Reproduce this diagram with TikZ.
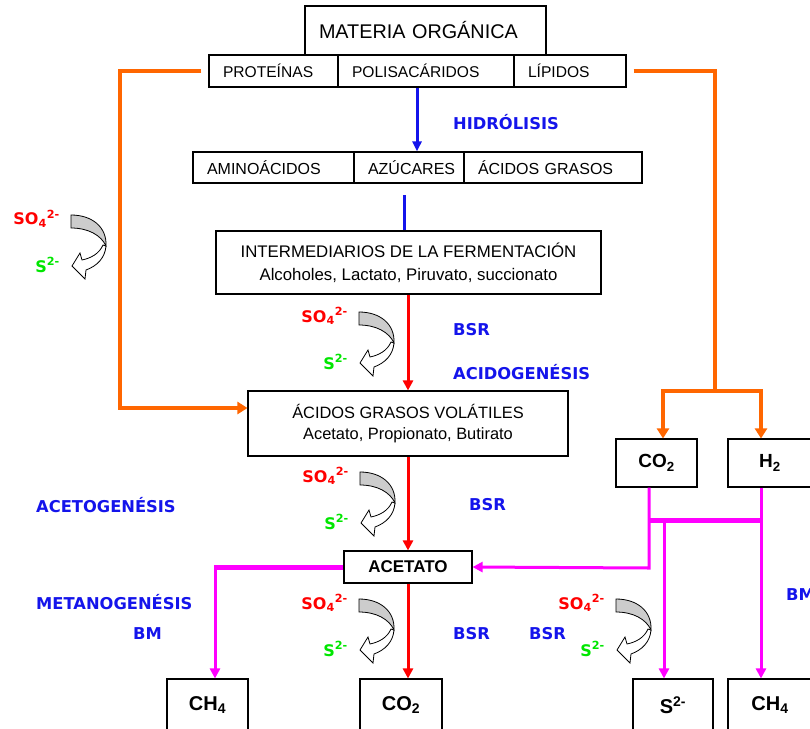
\documentclass[tikz,border=0pt]{standalone}
\usepackage{fontspec}
\setmainfont{Liberation Sans}
\newfontfamily\lblfont{DejaVu Sans}
\usepackage{xcolor}
\usetikzlibrary{arrows.meta}

\definecolor{naranja}{RGB}{255,102,0}
\definecolor{azul}{RGB}{20,20,235}
\definecolor{rojo}{RGB}{255,0,0}
\definecolor{verde}{RGB}{0,230,0}
\definecolor{magenta}{RGB}{255,0,255}

\tikzset{
    sulf/.pic={
        \filldraw[fill=gray!40, line width=0.8pt] (0,0) .. controls (21,0) and (36,12) .. (35,31)
            .. controls (30,20) and (17,13) .. (0,13) -- cycle;
        \filldraw[fill=white, line width=0.8pt] (35,31) .. controls (34,43) and (26,51) .. (15,55)
            -- (14,64) -- (1,51) -- (9,38) -- (11,45) .. controls (20,43) and (28,39) .. (32,30) -- cycle;
        \node[sulfo] (-so) at (-11,4) {SO\textsubscript{4}\textsuperscript{2-}};
        \node[sulfu] (-s) at (-11,50) {S\textsuperscript{2-}};
    }
}

\begin{document}
\begin{tikzpicture}[x=1pt, y=-1pt,
    caja/.style={draw, line width=1.1pt, inner sep=0pt, font=\fontsize{16}{18}\selectfont},
    celda/.style={caja, inner xsep=0pt, text width=#1, align=left, execute at begin node={\hspace*{14pt}}},
    quim/.style={caja, font=\fontsize{20}{22}\selectfont\bfseries},
    etiq/.style={anchor=west, text=azul, inner sep=0pt, font=\lblfont\bfseries\fontsize{16.3}{18}\selectfont},
    sulfo/.style={anchor=east, text=rojo, inner sep=0pt, font=\lblfont\bfseries\fontsize{16}{18}\selectfont},
    sulfu/.style={anchor=east, text=verde, inner sep=0pt, font=\lblfont\bfseries\fontsize{16}{18}\selectfont},
    flna/.style={naranja, line width=4.5pt},
    flaz/.style={azul, line width=3pt},
    flro/.style={rojo, line width=3pt},
    flma/.style={magenta, line width=3pt},
    punta/.style={-{Triangle[length=10pt, width=#1]}}
]
    \clip (0,0) rectangle (810,728);

    % cajas
    \node[celda=241, minimum height=49, font=\fontsize{19.8}{22}\selectfont] (mo) at (425.5,30.5) {MATERIA ORGÁNICA};
    \node[celda=129, minimum height=32, font=\fontsize{15.6}{18}\selectfont] (prot) at (273.5,71) {PROTEÍNAS};
    \node[celda=176, minimum height=32, font=\fontsize{15.6}{18}\selectfont] (polis) at (426,71) {POLISACÁRIDOS};
    \node[celda=112, minimum height=32, font=\fontsize{15.6}{18}\selectfont] (lip) at (570,71) {LÍPIDOS};
    \node[celda=161, minimum height=31] (amino) at (273.5,167.5) {AMINOÁCIDOS};
    \node[celda=110, minimum height=31] (azuc) at (409,167.5) {AZÚCARES};
    \node[celda=178, minimum height=31] (acgr) at (553,167.5) {ÁCIDOS GRASOS};
    \node[caja, minimum width=385, minimum height=63, align=center, font=\fontsize{16.8}{23}\selectfont] (inter) at (408.5,262.5)
        {INTERMEDIARIOS DE LA FERMENTACIÓN\\Alcoholes, Lactato, Piruvato, succionato};
    \node[caja, minimum width=320, minimum height=65, align=center, font=\fontsize{16.4}{21}\selectfont] (agv) at (408,423.5)
        {ÁCIDOS GRASOS VOLÁTILES\\Acetato, Propionato, Butirato};
    \node[caja, minimum width=128, minimum height=32, font=\fontsize{17}{18}\selectfont\bfseries] (acet) at (408,567) {ACETATO};
    \node[quim, minimum width=81, minimum height=48, font=\fontsize{19}{22}\selectfont\bfseries] (co2a) at (656.5,463) {CO\textsubscript{2}};
    \node[quim, minimum width=84, minimum height=48, font=\fontsize{19}{22}\selectfont\bfseries] (h2) at (770,463) {H\textsubscript{2}};
    \node[quim, minimum width=81, minimum height=52] (ch4a) at (207.5,705) {CH\textsubscript{4}};
    \node[quim, minimum width=82, minimum height=52] (co2b) at (401,705) {CO\textsubscript{2}};
    \node[quim, minimum width=80, minimum height=52] (s2) at (673,705) {S\textsuperscript{2-}};
    \node[quim, minimum width=84, minimum height=52] (ch4b) at (770,705) {CH\textsubscript{4}};

    % etiquetas
    \node[etiq] (hid) at (453,122) {HIDRÓLISIS};
    \node[etiq] (bsr1) at (453,330) {BSR};
    \node[etiq] (acid) at (453,372) {ACIDOGENÉSIS};
    \node[etiq] (acetg) at (36,505) {ACETOGENÉSIS};
    \node[etiq] (bsr2) at (469,505) {BSR};
    \node[etiq] (metg) at (36,602) {METANOGENÉSIS};
    \node[etiq] (bm1) at (133,634) {BM};
    \node[etiq] (bsr3) at (453,634) {BSR};
    \node[etiq] (bsr4) at (529,634) {BSR};
    \node[etiq] (bm2) at (786,595) {BM};

    % sulfato -> sulfuro
    \pic (r1) at (71,215) {sulf};
    \pic (r2) at (359,312) {sulf};
    \pic (r3) at (360,472) {sulf};
    \pic (r4) at (359,599) {sulf};
    \pic (r5) at (616,599) {sulf};

    % puntos de giro
    \coordinate (olt) at (120,71);
    \coordinate (olb) at (120,408);
    \coordinate (ort) at (715,71);
    \coordinate (orb) at (715,391);
    \coordinate (orl) at (663,391);
    \coordinate (orr) at (761,391);
    \coordinate (bl) at (404,195);
    \coordinate (mcl) at (215,567);
    \coordinate (mc) at (649,568);
    \coordinate (jl) at (649,520);
    \coordinate (jr) at (761,520);
    \coordinate (js) at (664,520);

    % conectores
    \draw[flna, punta=12pt] ([xshift=-7pt]prot.west) -- (olt) -- (olb) -- (olb -| agv.west);
    \draw[flna] ([xshift=7pt]lip.east) -- (ort) -- (orb);
    \draw[flna] ([xshift=-2.25pt]orl) -- ([xshift=2.25pt]orr);
    \draw[flna, punta=12pt] (orl) -- (orl |- co2a.north);
    \draw[flna, punta=12pt] (orr) -- (orr |- h2.north);
    \draw[flaz, punta=9pt] ([xshift=-9pt]polis.south) -- ([xshift=-9pt]polis.south |- azuc.north);
    \draw[flaz] (bl) -- (bl |- inter.north);
    \draw[flro, punta=10pt] (inter.south -| agv.north) -- (agv.north);
    \draw[flro, punta=10pt] (agv.south) -- (acet.north);
    \draw[flro, punta=10pt] (acet.south) -- (acet.south |- co2b.north);
    \draw[flma, line width=5pt] (acet.west) -- ([xshift=-1.5pt]mcl);
    \draw[flma, punta=10pt] (mcl) -- (mcl |- ch4a.north);
    \draw[flma, punta=10pt] (co2a.south -| mc) -- (mc) -- (acet.east);
    \draw[flma, line width=5pt] (jl) -- (jr);
    \draw[flma, punta=10pt] (js) -- (js |- s2.north);
    \draw[flma, punta=10pt] (h2.south -| jr) -- (jr |- ch4b.north);
\end{tikzpicture}
\end{document}
